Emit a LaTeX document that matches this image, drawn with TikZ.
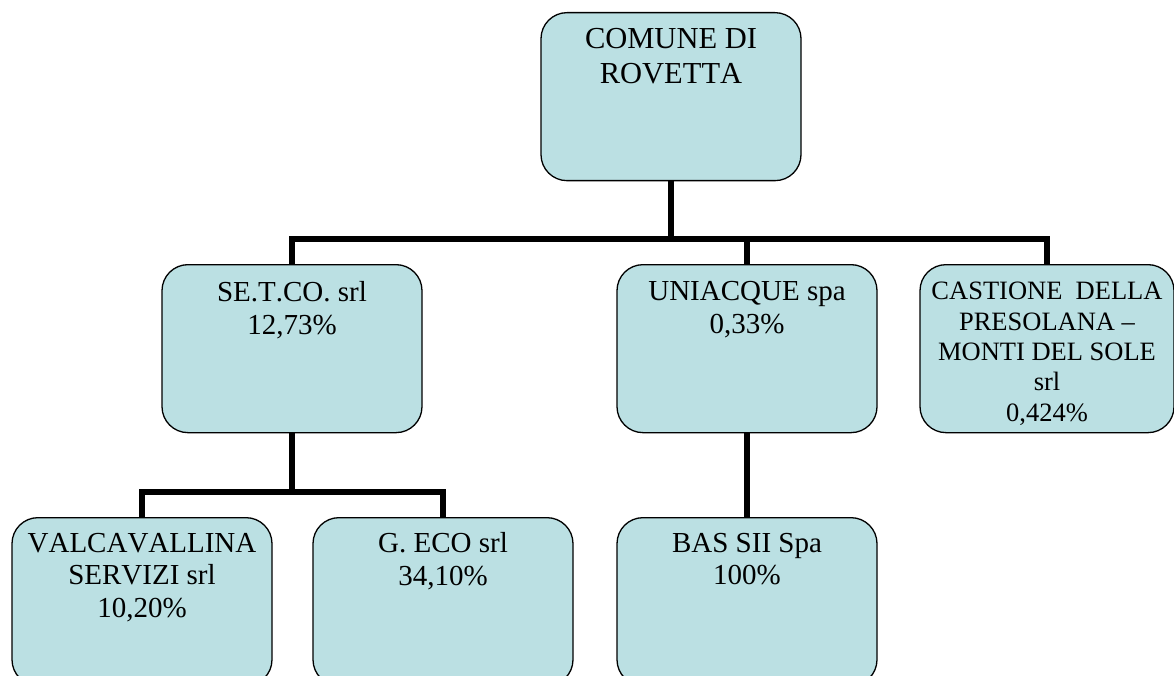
\documentclass[tikz,border=0pt]{standalone}
\usepackage{fontspec}
\setmainfont{Liberation Serif}[Kerning=Off]
\definecolor{boxfill}{HTML}{BBE0E3}
\begin{document}
\begin{tikzpicture}[x=1pt,y=-1pt,
  orgbox/.style={draw=black, line width=1.3pt, fill=boxfill, rounded corners=26pt,
    minimum width=260pt, minimum height=168pt, anchor=north, inner sep=0pt},
  txt/.style={anchor=north, align=center, inner sep=0pt},
  bigfont/.style={font=\fontsize{30.5pt}{35pt}\selectfont},
  midfont/.style={font=\fontsize{29pt}{32.5pt}\selectfont},
  smallfont/.style={font=\fontsize{26.5pt}{30.4pt}\selectfont},
  conn/.style={line width=5.5pt, draw=black}]
\useasboundingbox (0,0) rectangle (1174,676);

\node[orgbox, label={[txt, bigfont, yshift=-16pt]north:{COMUNE DI\\ROVETTA}}] (top) at (671,12) {};
\node[orgbox, label={[txt, midfont, yshift=-17.5pt]north:{SE.T.CO. srl\\12,73\%}}] (setco) at (292,264) {};
\node[orgbox, label={[txt, midfont, yshift=-17.5pt]north:{UNIACQUE spa\\0,33\%}}] (uni) at (747,264) {};
\node[orgbox, minimum width=254pt, label={[txt, smallfont, yshift=-18pt]north:{CASTIONE\ \ DELLA\\PRESOLANA –\\MONTI DEL SOLE\\srl\\0,424\%}}] (cast) at (1047,264) {};
\node[orgbox, label={[txt, midfont, yshift=-16pt]north:{VALCAVALLINA\\SERVIZI srl\\10,20\%}}] (valc) at (142,517) {};
\node[orgbox, label={[txt, midfont, yshift=-15.5pt]north:{G. ECO srl\\34,10\%}}] (geco) at (443,517) {};
\node[orgbox, label={[txt, midfont, yshift=-16pt]north:{BAS SII Spa\\100\%}}] (bas) at (747,517) {};

\coordinate (busA) at (671,239);
\coordinate (busB) at (292,492);

\draw[conn] (top.south) -- (top.south |- busA) -| (setco.north);
\draw[conn] (top.south |- busA) -| (cast.north);
\draw[conn] (uni.north |- busA) -- (uni.north);
\draw[conn] (setco.south) -- (setco.south |- busB) -| (valc.north);
\draw[conn] (setco.south |- busB) -| (geco.north);
\draw[conn] (uni.south) -- (bas.north);
\end{tikzpicture}
\end{document}
